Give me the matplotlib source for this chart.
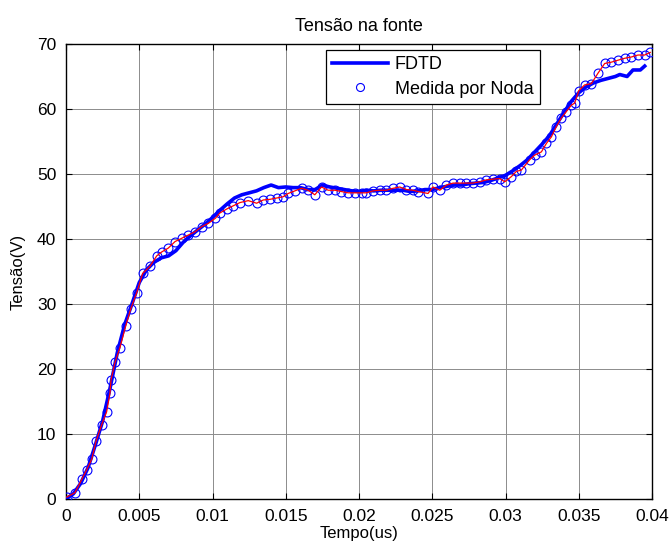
import numpy as np
import matplotlib
matplotlib.use("Agg")
import matplotlib.pyplot as plt

# ===== DATA =====
# FDTD simulation (time in us, voltage in V)
t_fdtd = [0, 0.0005, 0.001, 0.0015, 0.002, 0.0025, 0.003, 0.0035, 0.004, 0.0045,
          0.005, 0.0055, 0.006, 0.0065, 0.007, 0.0075, 0.008, 0.0085, 0.009, 0.0095,
          0.01, 0.0105, 0.011, 0.0115, 0.012, 0.0125, 0.013, 0.0135, 0.014, 0.0145,
          0.015, 0.0155, 0.016, 0.0165, 0.017, 0.0175, 0.018, 0.0185, 0.019, 0.0195,
          0.02, 0.0205, 0.021, 0.0215, 0.022, 0.0225, 0.023, 0.0235, 0.024, 0.0245,
          0.025, 0.0255, 0.026, 0.0265, 0.027, 0.0275, 0.028, 0.0285, 0.029, 0.0295,
          0.03, 0.0305, 0.031, 0.0315, 0.032, 0.0325, 0.033, 0.0335, 0.034, 0.0345,
          0.035, 0.0355, 0.036, 0.0365, 0.037, 0.0375, 0.0378, 0.0383, 0.0387, 0.0392,
          0.0395]
v_fdtd = [0, 0.8, 2.4, 4.8, 8.3, 12.0, 17.0, 22.5, 26.8, 30.0,
          33.3, 35.3, 36.4, 37.1, 37.4, 38.2, 39.5, 40.5, 41.4, 42.3,
          43.3, 44.4, 45.4, 46.3, 46.8, 47.1, 47.4, 47.9, 48.3, 47.9,
          48.0, 47.9, 47.9, 47.6, 47.6, 48.3, 48.0, 47.8, 47.6, 47.4,
          47.3, 47.5, 47.4, 47.5, 47.5, 47.5, 47.5, 47.3, 47.4, 47.6,
          47.6, 47.9, 48.1, 48.3, 48.3, 48.5, 48.6, 48.7, 49.0, 49.4,
          49.8, 50.5, 51.3, 52.2, 53.4, 54.6, 55.9, 57.7, 59.5, 61.2,
          62.5, 63.4, 64.0, 64.4, 64.7, 65.0, 65.3, 65.0, 66.0, 66.0,
          66.6]

# measured curve (Noda)
t_noda = [0.00005, 0.00061, 0.00107, 0.00141, 0.00175, 0.00205, 0.00243, 0.00277, 0.003, 0.00307,
          0.00334, 0.00368, 0.00407, 0.00441, 0.00482, 0.00523, 0.00573, 0.00619, 0.00653, 0.00698,
          0.00744, 0.00789, 0.00834, 0.0088, 0.00926, 0.00971, 0.0102, 0.0105, 0.01096, 0.01141,
          0.01187, 0.01244, 0.01301, 0.01346, 0.01392, 0.01437, 0.01482, 0.01516, 0.01562, 0.01608,
          0.01653, 0.01698, 0.01744, 0.01789, 0.01835, 0.0188, 0.01926, 0.01971, 0.02017, 0.02051,
          0.02096, 0.02142, 0.02187, 0.02233, 0.02278, 0.02324, 0.02369, 0.02403, 0.02471, 0.02505,
          0.02551, 0.02597, 0.02642, 0.02688, 0.02733, 0.02778, 0.02824, 0.0287, 0.02915, 0.0296,
          0.02995, 0.0304, 0.03074, 0.03108, 0.03165, 0.03199, 0.03245, 0.03279, 0.03313, 0.03347,
          0.03381, 0.03415, 0.0345, 0.03472, 0.035, 0.0354, 0.03586, 0.03631, 0.03677, 0.03722,
          0.03767, 0.03813, 0.03859, 0.03904, 0.0395, 0.03988]
v_noda = [0.3, 0.97, 3.0, 4.5, 6.1, 8.9, 11.4, 13.4, 16.3, 18.3,
          21.0, 23.3, 26.6, 29.2, 31.7, 34.7, 35.8, 37.4, 38.0, 38.6,
          39.6, 40.1, 40.6, 41.1, 41.9, 42.4, 43.2, 44.0, 44.6, 45.1,
          45.6, 45.9, 45.5, 46.0, 46.1, 46.3, 46.5, 47.0, 47.4, 47.8,
          47.5, 46.8, 48.0, 47.5, 47.5, 47.3, 47.1, 47.1, 47.1, 47.1,
          47.4, 47.5, 47.5, 47.8, 48.0, 47.6, 47.5, 47.3, 47.0, 48.0,
          47.5, 48.3, 48.6, 48.6, 48.6, 48.6, 48.8, 49.1, 49.2, 49.3,
          48.8, 49.6, 50.4, 50.6, 52.2, 52.9, 53.4, 54.7, 55.7, 57.3,
          58.6, 59.6, 60.6, 60.9, 62.8, 63.7, 63.9, 65.5, 67.0, 67.2,
          67.5, 67.8, 68.0, 68.3, 68.3, 68.7]

x_ticks = [0, 0.005, 0.01, 0.015, 0.02, 0.025, 0.03, 0.035, 0.04]
x_tick_labels = ["0", "0.005", "0.01", "0.015", "0.02", "0.025", "0.03", "0.035", "0.04"]
y_ticks = [0, 10, 20, 30, 40, 50, 60, 70]

# ===== FIGURE =====
plt.rcParams["font.family"] = ["Liberation Sans", "DejaVu Sans"]

fig = plt.figure(figsize=(6.71, 5.49), dpi=100)
ax = fig.add_axes([0.0984, 0.0911, 0.8733, 0.8288])

ax.plot(t_fdtd, v_fdtd, color="#0000ff", linewidth=2.6, label="FDTD", zorder=3)
ax.plot(t_noda, v_noda, linestyle="none", marker="o", markersize=6.4,
        markerfacecolor="none", markeredgecolor="#0000ff", markeredgewidth=0.8,
        label="Medida por Noda", zorder=4)
ax.plot(t_noda, v_noda, color="#ff0000", linewidth=0.9, zorder=5)

ax.set_xlim(0, 0.04)
ax.set_ylim(0, 70)
ax.set_xticks(x_ticks)
ax.set_xticklabels(x_tick_labels)
ax.set_yticks(y_ticks)

ax.tick_params(direction="in", length=4, width=0.8, top=True, right=True,
               labelsize=12.5, pad=7, colors="black")
ax.grid(True, color="#8c8c8c", linewidth=0.7)
ax.set_axisbelow(True)
for s in ax.spines.values():
    s.set_linewidth(1.0)
    s.set_color("black")

ax.set_title("Tensão na fonte", fontsize=13, pad=9)
ax.set_xlabel("Tempo(us)", fontsize=12, labelpad=2)
ax.set_ylabel("Tensão(V)", fontsize=12, labelpad=8)

leg = ax.legend(loc="upper left", bbox_to_anchor=(0.4437, 0.9868), borderaxespad=0,
                fontsize=13, fancybox=False, framealpha=1, edgecolor="black",
                handlelength=3.1, handletextpad=0.35, labelspacing=0.4,
                borderpad=0.35, markerscale=0.9)
leg.get_frame().set_linewidth(0.9)

fig.savefig("out.png", dpi=100)
